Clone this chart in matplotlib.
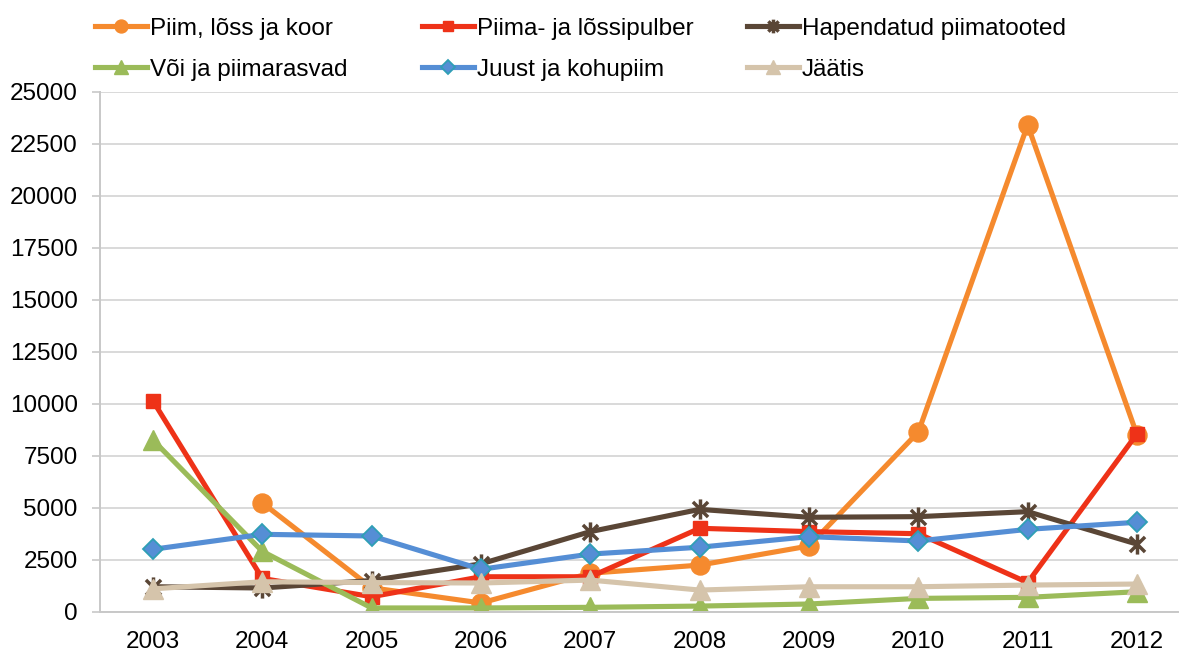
import matplotlib.pyplot as plt
from matplotlib.path import Path

plt.rcParams['font.family'] = ['Liberation Sans', 'DejaVu Sans']

years = ['2003', '2004', '2005', '2006', '2007', '2008', '2009', '2010', '2011', '2012']

# export volumes per product group
piim = [None, 5230, 1150, 420, 1850, 2240, 3160, 8640, 23400, 8500]
pulber = [10130, 1600, 720, 1680, 1680, 4010, 3850, 3750, 1400, 8550]
hapendatud = [1200, 1140, 1500, 2300, 3850, 4920, 4540, 4570, 4810, 3250]
void = [8250, 2900, 180, 180, 210, 270, 370, 640, 690, 960]
juust = [3000, 3720, 3640, 2040, 2770, 3100, 3610, 3400, 3960, 4300]
jaatis = [1100, 1440, 1400, 1380, 1520, 1040, 1200, 1200, 1280, 1330]

# excel-style "star" marker: vertical bar plus an X
star = Path([(0, -1), (0, 1), (-0.75, -0.75), (0.75, 0.75), (-0.75, 0.75), (0.75, -0.75)],
            [Path.MOVETO, Path.LINETO] * 3)

fig = plt.figure(figsize=(11.82, 6.53), dpi=100)
ax = fig.add_axes([100 / 1182, (653 - 611.7) / 653, 1078 / 1182, 520 / 653])

x = list(range(len(years)))
lw = 3.7
fs = 17.5
series = [
    ('Piim, lõss ja koor', piim, dict(color='#F58A2E', marker='o', ms=13.7)),
    ('Piima- ja lõssipulber', pulber, dict(color='#EE3218', marker='s', ms=10.5)),
    ('Hapendatud piimatooted', hapendatud, dict(color='#5A4636', marker=star, ms=14.5, mew=2.5)),
    ('Või ja piimarasvad', void, dict(color='#9BBB59', marker='^', ms=14)),
    ('Juust ja kohupiim', juust, dict(color='#558ED5', marker='D', ms=10.5, mec='#2F9FB5', mew=1.3)),
    ('Jäätis', jaatis, dict(color='#D5C4AB', marker='^', ms=14)),
]

handles = []
for label, vals, st in series:
    xs = [i for i, v in zip(x, vals) if v is not None]
    ys = [v for v in vals if v is not None]
    h, = ax.plot(xs, ys, lw=lw, label=label, solid_joinstyle='round', **st)
    handles.append(h)

ax.set_xlim(-0.485, 9.375)
ax.set_ylim(0, 25000)
ax.set_yticks(range(0, 25001, 2500))
ax.set_xticks(x)
ax.set_xticklabels(years)

ax.grid(axis='y', color='#D9D9D9', lw=1.4)
ax.set_axisbelow(True)
for s in ['top', 'right']:
    ax.spines[s].set_visible(False)
ax.spines['left'].set_color('#C8C8C8')
ax.spines['bottom'].set_color('#C8C8C8')
ax.spines['left'].set_linewidth(1.4)
ax.spines['bottom'].set_linewidth(1.4)
ax.tick_params(axis='y', length=6, width=1.2, color='#C8C8C8', pad=10, labelsize=fs)
ax.tick_params(axis='x', length=0, pad=14, labelsize=fs)

# legend: three fixed-width columns, two rows
col_x = [95, 422, 747]
for c in range(3):
    hs = [handles[c], handles[c + 3]]
    fig.legend(hs, [h.get_label() for h in hs], loc='upper left',
               bbox_to_anchor=(col_x[c] / 1182, 1 - 17.5 / 653),
               frameon=False, fontsize=fs, handlelength=2.14, handletextpad=0.12,
               labelspacing=0.8, borderpad=0, borderaxespad=0, markerscale=0.68)

fig.savefig('out.png', dpi=100)
